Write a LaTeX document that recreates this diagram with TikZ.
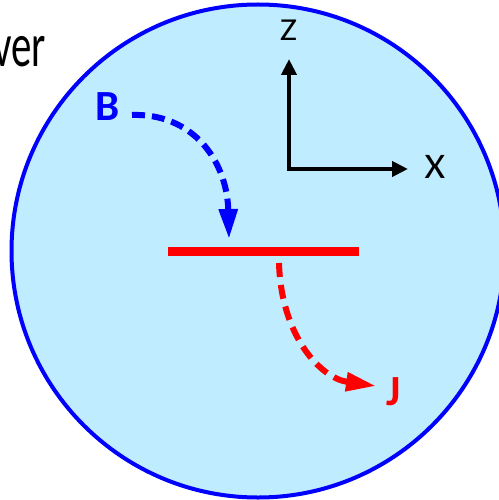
\documentclass[tikz,border=0pt]{standalone}
\usepackage{fontspec}
\setmainfont{Carlito}
\usetikzlibrary{arrows.meta}
\definecolor{cellfill}{RGB}{192,236,255}
\definecolor{fieldblue}{RGB}{0,0,255}
\definecolor{currred}{RGB}{255,0,0}

\begin{document}
\begin{tikzpicture}[
  x=1pt, y=-1pt,
  every node/.style={inner sep=0pt, outer sep=0pt},
  cell/.style={circle, draw=fieldblue, fill=cellfill, line width=4pt, minimum size=493pt},
  sheet/.style={rectangle, fill=currred, minimum width=191pt, minimum height=9pt},
  axis/.style={{Triangle[length=16pt, width=15pt]}-{Triangle[length=16pt, width=15pt]}, line width=4.5pt, black},
  barr/.style={-{Triangle[length=30pt, width=18pt]}, line width=6pt, fieldblue, dash pattern=on 13pt off 7pt},
  jarr/.style={-{Triangle[length=30pt, width=18pt]}, line width=6pt, currred, dash pattern=on 14pt off 8pt},
  lbl/.style={font=\fontsize{32}{36}\selectfont},
]
  \useasboundingbox (0,0) rectangle (498,500);

  \node[cell] (cell) at (258,251) {};
  \node[font=\fontsize{62}{70}\selectfont, anchor=base east] (ver) at (46,67) {\scalebox{0.66}[1]{ver}};

  % field and current labels
  \node[font=\fontsize{43}{48}\selectfont\bfseries, text=fieldblue] (B) at (107.5,106.5) {B};
  \node[font=\fontsize{43}{48}\selectfont\bfseries, text=currred] (J) at (393.5,392) {J};

  % conducting sheet
  \node[sheet] (plate) at (263.5,251.5) {};

  \coordinate (bstart) at (132,115);
  \coordinate (bend) at (229,239);
  \coordinate (jstart) at (279,263);
  \coordinate (jend) at (376,386);
  \draw[barr] (bstart) .. controls (192,113) and (227,160) .. (bend);
  \draw[jarr] (jstart) .. controls (281,335) and (320,378) .. (jend);

  % axes
  \coordinate (origin) at (289,169);
  \coordinate (ztip) at (289,59);
  \coordinate (xtip) at (408,169);
  \draw[axis] (ztip) -- (origin) -- (xtip);
  \node[lbl] (zlab) at (288.5,30) {\scalebox{1.15}[1]{Z}};
  \node[lbl, font=\fontsize{36}{40}\selectfont] (xlab) at (435,166.5) {\scalebox{1.1}[1]{X}};
\end{tikzpicture}
\end{document}
